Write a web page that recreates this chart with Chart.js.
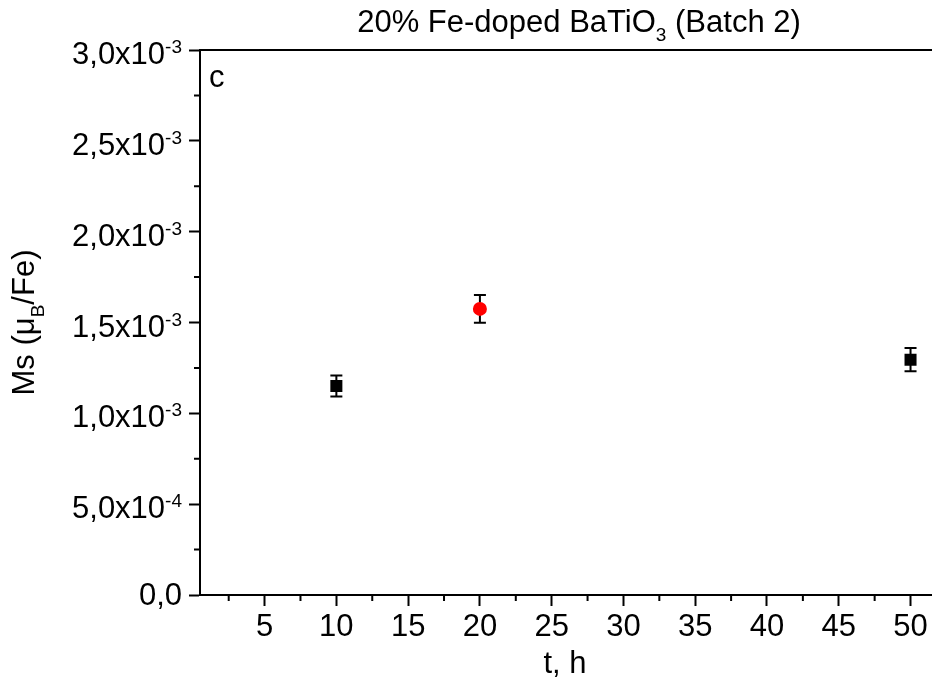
<!DOCTYPE html>
<html>
<head>
<meta charset="utf-8">
<script src="https://cdn.jsdelivr.net/npm/chart.js@4.4.1/dist/chart.umd.min.js"></script>
<style>
  html, body { margin: 0; padding: 0; background: #fff; overflow: hidden; }
  #wrap { width: 932px; height: 688px; overflow: hidden; }
</style>
</head>
<body>
<div id="wrap"><canvas id="c" width="942" height="688"></canvas></div>
<script>
// t (h) vs saturation magnetisation, batch 2
const tBlack = [10, 50];
const msBlack = [1.15e-3, 1.295e-3];
const errBlack = [0.058e-3, 0.064e-3];

const tRed = [20];
const msRed = [1.575e-3];
const errRed = [0.077e-3];

// axes
const xTicks = [5, 10, 15, 20, 25, 30, 35, 40, 45, 50];
const xMinor = [2.5, 7.5, 12.5, 17.5, 22.5, 27.5, 32.5, 37.5, 42.5, 47.5];
const yTicks = [0, 0.5e-3, 1.0e-3, 1.5e-3, 2.0e-3, 2.5e-3, 3.0e-3];
const yTickMant = ['0,0', '5,0', '1,0', '1,5', '2,0', '2,5', '3,0'];
const yTickExp = ['', '-4', '-3', '-3', '-3', '-3', '-3'];
const yMinor = [0.25e-3, 0.75e-3, 1.25e-3, 1.75e-3, 2.25e-3, 2.75e-3];

const FONT = '"Liberation Sans", Arial, sans-serif';
const BIG = 31, SMALL = 19;

// draw text made of pieces (normal / super / sub)
function drawRich(ctx, parts, x, y, align) {
    let w = 0;
    parts.forEach(p => {
        ctx.font = (p.small ? SMALL : BIG) + 'px ' + FONT;
        p.w = ctx.measureText(p.t).width;
        w += p.w;
    });
    let cx = align === 'right' ? x - w : align === 'center' ? x - w / 2 : x;
    ctx.textAlign = 'left';
    ctx.textBaseline = 'alphabetic';
    parts.forEach(p => {
        ctx.font = (p.small ? SMALL : BIG) + 'px ' + FONT;
        ctx.fillText(p.t, cx, y + (p.dy || 0));
        cx += p.w;
    });
}

const errorBars = {
    id: 'errorBars',
    beforeDatasetsDraw(chart) {
        const ctx = chart.ctx, ys = chart.scales.y;
        const errs = [errBlack, errRed];
        ctx.save();
        ctx.strokeStyle = '#000';
        ctx.lineWidth = 2;
        chart.data.datasets.forEach((ds, i) => {
            chart.getDatasetMeta(i).data.forEach((pt, j) => {
                const v = ds.data[j].y, e = errs[i][j];
                const y1 = ys.getPixelForValue(v + e), y2 = ys.getPixelForValue(v - e);
                ctx.beginPath();
                ctx.moveTo(pt.x, y1); ctx.lineTo(pt.x, y2);
                ctx.moveTo(pt.x - 6, y1); ctx.lineTo(pt.x + 6, y1);
                ctx.moveTo(pt.x - 6, y2); ctx.lineTo(pt.x + 6, y2);
                ctx.stroke();
            });
        });
        ctx.restore();
    }
};

const decorations = {
    id: 'decorations',
    afterDraw(chart) {
        const ctx = chart.ctx, xs = chart.scales.x, ys = chart.scales.y;
        const area = chart.chartArea;
        ctx.save();
        ctx.strokeStyle = '#000';
        ctx.fillStyle = '#000';
        ctx.lineWidth = 2;
        // minor ticks
        ctx.beginPath();
        xMinor.forEach(v => {
            const px = xs.getPixelForValue(v);
            ctx.moveTo(px, area.bottom); ctx.lineTo(px, area.bottom + 6);
        });
        yMinor.forEach(v => {
            const py = ys.getPixelForValue(v);
            ctx.moveTo(area.left - 6, py); ctx.lineTo(area.left, py);
        });
        ctx.stroke();

        // y tick labels with exponent
        yTicks.forEach((v, i) => {
            const py = ys.getPixelForValue(v);
            if (yTickExp[i]) {
                drawRich(ctx, [{ t: yTickMant[i] + 'x10' }, { t: yTickExp[i], small: true, dy: -11 }], area.left - 18, py + 14, 'right');
            } else {
                drawRich(ctx, [{ t: yTickMant[i] }], area.left - 18, py + 10, 'right');
            }
        });

        // title
        drawRich(ctx, [{ t: '20% Fe-doped BaTiO' }, { t: '3', small: true, dy: 9 }, { t: ' (Batch 2)' }], 579, 32, 'center');
        // panel letter
        drawRich(ctx, [{ t: 'c' }], area.left + 9, 87, 'left');
        // x title
        drawRich(ctx, [{ t: 't, h' }], 565, 673, 'center');
        // y title
        ctx.save();
        ctx.translate(34, (area.top + area.bottom) / 2);
        ctx.rotate(-Math.PI / 2);
        drawRich(ctx, [{ t: 'Ms (\u03bc' }, { t: 'B', small: true, dy: 10 }, { t: '/Fe)' }], 0, 0, 'center');
        ctx.restore();
        ctx.restore();
    }
};

new Chart(document.getElementById('c'), {
    type: 'scatter',
    data: {
        datasets: [{
            data: tBlack.map((t, i) => ({ x: t, y: msBlack[i] })),
            pointStyle: 'rect',
            pointRadius: 8.5,
            pointHoverRadius: 8.5,
            backgroundColor: '#000',
            borderColor: '#000',
            borderWidth: 0
        }, {
            data: tRed.map((t, i) => ({ x: t, y: msRed[i] })),
            pointStyle: 'circle',
            pointRadius: 7,
            pointHoverRadius: 7,
            backgroundColor: '#ff0000',
            borderColor: '#ff0000',
            borderWidth: 0
        }]
    },
    options: {
        responsive: false,
        animation: false,
        events: [],
        layout: { padding: { top: 50, left: 0, right: 0, bottom: 0 } },
        plugins: { legend: { display: false }, tooltip: { enabled: false } },
        scales: {
            x: {
                type: 'linear',
                position: 'bottom',
                min: 0.5,
                max: 51.6,
                afterBuildTicks: s => { s.ticks = xTicks.map(v => ({ value: v })); },
                afterFit: s => { s.height = 93; },
                grid: { drawOnChartArea: false, drawTicks: true, tickLength: 11, tickWidth: 2, tickColor: '#000' },
                border: { display: true, color: '#000', width: 2 },
                ticks: { color: '#000', padding: 3, maxRotation: 0, autoSkip: false, font: { family: FONT, size: BIG } }
            },
            xTop: {
                type: 'linear',
                position: 'top',
                axis: 'x',
                min: 0.5,
                max: 51.6,
                afterFit: s => { s.height = 0; },
                grid: { drawOnChartArea: false, drawTicks: false },
                border: { display: true, color: '#000', width: 2 },
                ticks: { display: false }
            },
            y: {
                type: 'linear',
                min: 0,
                max: 3.0e-3,
                afterBuildTicks: s => { s.ticks = yTicks.map(v => ({ value: v })); },
                afterFit: s => { s.width = 200; },
                grid: { drawOnChartArea: false, drawTicks: true, tickLength: 11, tickWidth: 2, tickColor: '#000' },
                border: { display: true, color: '#000', width: 2 },
                ticks: { callback: () => '', padding: 0 }
            }
        }
    },
    plugins: [errorBars, decorations]
});
</script>
</body>
</html>
